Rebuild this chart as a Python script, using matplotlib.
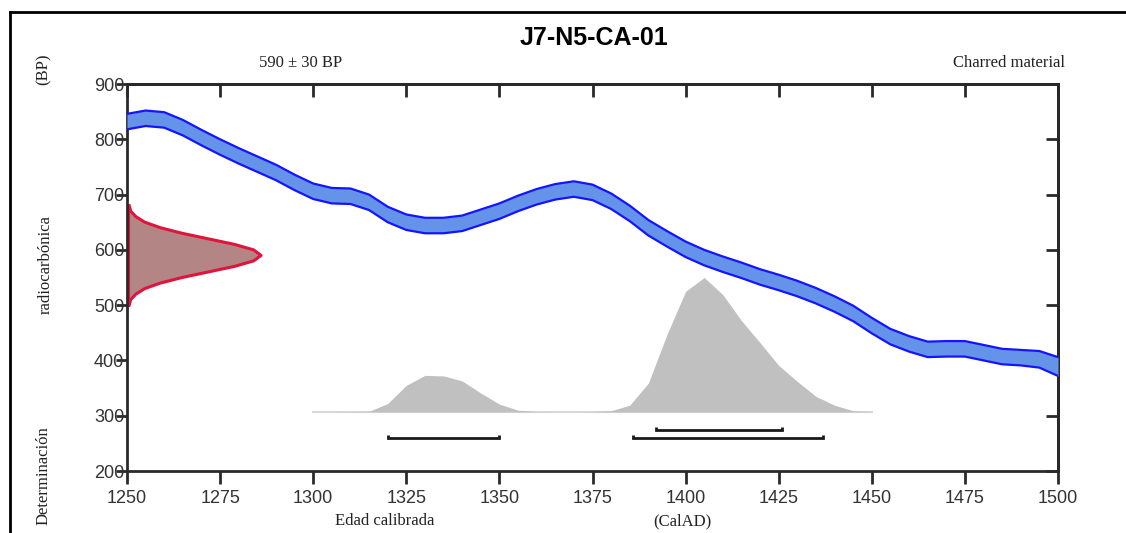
import matplotlib
matplotlib.use("Agg")
import matplotlib.pyplot as plt
import numpy as np

# ---- data ----
cal_years = [1250, 1255, 1260, 1265, 1270, 1275, 1280, 1285, 1290, 1295, 1300, 1305, 1310,
             1315, 1320, 1325, 1330, 1335, 1340, 1345, 1350, 1355, 1360, 1365, 1370, 1375,
             1380, 1385, 1390, 1395, 1400, 1405, 1410, 1415, 1420, 1425, 1430, 1435, 1440,
             1445, 1450, 1455, 1460, 1465, 1470, 1475, 1480, 1485, 1490, 1495, 1500]
cal_bp = [832, 838, 835, 821, 803, 786, 770, 755, 740, 722, 706, 698, 697,
          686, 664, 650, 644, 644, 648, 659, 670, 684, 696, 705, 710, 704,
          688, 666, 640, 620, 601, 586, 574, 563, 551, 541, 530, 517, 502,
          485, 463, 443, 430, 420, 421, 421, 414, 407, 405, 402, 389]
cal_err = [14, 14, 14, 14, 14, 14, 14, 14, 14, 14, 14, 14, 14,
           14, 14, 14, 14, 14, 14, 14, 14, 14, 14, 14, 14, 14,
           14, 14, 14, 14, 14, 14, 14, 14, 14, 14, 14, 14, 14,
           14, 14, 14, 14, 14, 14, 14, 14, 14, 14, 15, 17]

# radiocarbon determination (590 +/- 30 BP) drawn on the y axis
rc_bp = [500, 510, 520, 530, 540, 550, 560, 570, 580, 590,
         600, 610, 620, 630, 640, 650, 660, 670, 680]
rc_width = [0.6, 1.0, 2.4, 4.8, 9.0, 14.8, 21.8, 28.8, 34.0, 36.0,
            34.0, 28.8, 21.8, 14.8, 9.0, 4.8, 2.4, 1.0, 0.6]

# calibrated probability distribution
prob_years = [1300, 1305, 1310, 1315, 1320, 1325, 1330, 1335, 1340, 1345, 1350, 1355,
              1360, 1365, 1370, 1375, 1380, 1385, 1390, 1395, 1400, 1405, 1410, 1415,
              1420, 1425, 1430, 1435, 1440, 1445, 1450]
prob_height = [0, 0, 0.5, 1, 15, 48, 66, 65, 56, 34, 14, 3,
               0.5, 0, 0, 0.5, 2, 12, 52, 140, 218, 243, 212, 165,
               125, 84, 55, 28, 12, 2, 0]
prob_base = 307

# calibrated ranges (start, end, level in BP units)
range_start = [1320, 1386, 1392]
range_end = [1350, 1437, 1426]
range_level = [259, 259, 274]

x_ticks = [1250, 1275, 1300, 1325, 1350, 1375, 1400, 1425, 1450, 1475, 1500]
y_ticks = [200, 300, 400, 500, 600, 700, 800, 900]

title = "J7-N5-CA-01"

# ---- figure ----
fig = plt.figure(figsize=(11.26, 5.33), dpi=100)
ax = fig.add_axes([127 / 1126, 1 - 471 / 533, (1058 - 127) / 1126, (471 - 84) / 533])

# calibration curve band
cy = np.array(cal_years, float)
cb = np.array(cal_bp, float)
ce = np.array(cal_err, float)
ax.fill_between(cy, cb - ce, cb + ce, color="#6593ea", lw=0, zorder=3)
ax.plot(cy, cb + ce, color="#1414ff", lw=1.6, zorder=4)
ax.plot(cy, cb - ce, color="#1414ff", lw=1.6, zorder=4)

# radiocarbon determination
rb = np.array(rc_bp, float)
rw = np.array(rc_width, float)
ax.fill_betweenx(rb, 1250, 1250 + rw, color="#b38585", lw=0, zorder=2)
ax.plot(1250 + rw, rb, color="#e0143c", lw=2.2, zorder=2.5)
ax.plot([1250.3, 1250.3], [rb[0], rb[-1]], color="#e0143c", lw=2.2, zorder=2.5)

# calibrated distribution
py = np.array(prob_years, float)
ph = np.array(prob_height, float)
ax.fill_between(py, prob_base, prob_base + ph, color="#c0c0c0", lw=0, zorder=1)
ax.plot(py, np.full_like(py, prob_base), color="#d8d8d8", lw=1.5, zorder=0.9)

# ranges
for s, e, l in zip(range_start, range_end, range_level):
    ax.plot([s, s, e, e], [l + 6, l, l, l + 6], color="#1a1a1a", lw=2,
            solid_capstyle="butt", solid_joinstyle="miter", zorder=5)

ax.set_xlim(1250, 1500)
ax.set_ylim(200, 900)
ax.set_xticks(x_ticks)
ax.set_yticks(y_ticks)
ax.set_xticklabels([str(v) for v in x_ticks])
ax.set_yticklabels([str(v) for v in y_ticks])
for sp in ax.spines.values():
    sp.set_linewidth(2)
    sp.set_color("#2a2a2a")
ax.tick_params(axis="x", direction="out", length=9, width=2, color="#2a2a2a",
               labelsize=13, labelcolor="#333333", pad=5)
ax.tick_params(axis="y", direction="out", length=8, width=2, color="#2a2a2a",
               labelsize=13, labelcolor="#333333", pad=-6)
for lab in ax.get_xticklabels() + ax.get_yticklabels():
    lab.set_family(["Liberation Sans", "DejaVu Sans"])

secx = ax.secondary_xaxis("top")
secx.set_xticks(x_ticks)
secx.tick_params(direction="in", length=9, width=2, color="#2a2a2a", labeltop=False)
secx.spines["top"].set_linewidth(2)
secy = ax.secondary_yaxis("right")
secy.set_yticks(y_ticks)
secy.tick_params(direction="in", length=9, width=2, color="#2a2a2a", labelright=False)
secy.spines["right"].set_linewidth(2)

# texts
serif = ["Liberation Serif", "DejaVu Serif"]
fig.text(594 / 1126, 1 - 38 / 533, title, ha="center", va="center",
         fontsize=18, fontweight="bold", family=["Liberation Sans", "DejaVu Sans"])
fig.text(301 / 1126, 1 - 63 / 533, "590 \u00b1 30 BP", ha="center", va="center",
         fontsize=12, family=serif, color="#222222")
fig.text(1065 / 1126, 1 - 63 / 533, "Charred material", ha="right", va="center",
         fontsize=12, family=serif, color="#222222")
fig.text(44 / 1126, 1 - 69 / 533, "(BP)", ha="center", va="center", rotation=90,
         fontsize=12, family=serif, color="#222222")
fig.text(46 / 1126, 1 - 265 / 533, "radiocarbónica", ha="center", va="center", rotation=90,
         fontsize=12, family=serif, color="#222222")
fig.text(44 / 1126, 1 - 476 / 533, "Determinación", ha="center", va="center", rotation=90,
         fontsize=12, family=serif, color="#222222")
fig.text(385 / 1126, 1 - 521 / 533, "Edad calibrada", ha="center", va="center",
         fontsize=12, family=serif, color="#222222")
fig.text(682 / 1126, 1 - 521 / 533, "(CalAD)", ha="center", va="center",
         fontsize=12, family=serif, color="#222222")

# outer frame lines (left and top)
fig.add_artist(plt.Line2D([10 / 1126, 10 / 1126], [0, 1 - 12 / 533], color="black", lw=2,
                          transform=fig.transFigure))
fig.add_artist(plt.Line2D([10 / 1126, 1], [1 - 12 / 533, 1 - 12 / 533], color="black", lw=2,
                          transform=fig.transFigure))

fig.savefig("out.png", dpi=100)
